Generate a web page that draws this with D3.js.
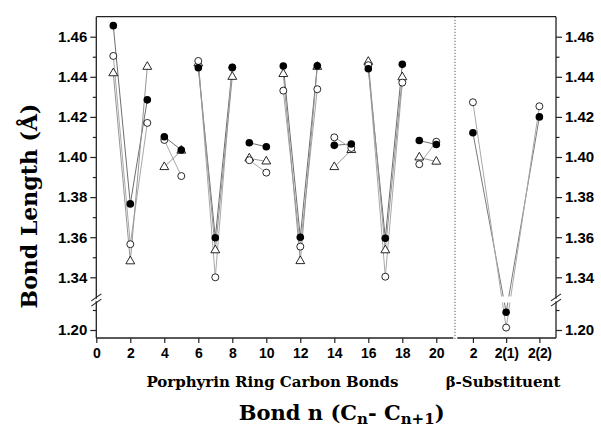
<!DOCTYPE html>
<html>
<head>
<meta charset="utf-8">
<script src="https://cdn.jsdelivr.net/npm/d3@7"></script>
<style>
  body { margin: 0; background: #fff; }
  svg { display: block; font-family: "DejaVu Serif", serif; font-weight: bold; }
  .tick text { fill: #000; }
</style>
</head>
<body>
<svg id="chart" width="601" height="430"></svg>
<script>
"use strict";

// ring carbon bonds 1..20
const bonds = d3.range(1, 21);
const filledRing = [1.4655, 1.3766, 1.4285, 1.4101, 1.4035, 1.4445, 1.3597, 1.4448, 1.4071, 1.4051,
                    1.4454, 1.3600, 1.4455, 1.4058, 1.4065, 1.4440, 1.3595, 1.4462, 1.4082, 1.4062];
const openRing   = [1.4504, 1.3565, 1.4170, 1.4085, 1.3905, 1.4479, 1.3400, 1.4445, 1.3984, 1.3922,
                    1.4331, 1.3553, 1.4338, 1.4098, 1.4045, 1.4458, 1.3403, 1.4371, 1.3964, 1.4076];
const triRing    = [1.4418, 1.3480, 1.4450, 1.3950, 1.4032, 1.4467, 1.3535, 1.4400, 1.3993, 1.3978,
                    1.4414, 1.3481, 1.4450, 1.3950, 1.4035, 1.4475, 1.3535, 1.4398, 1.3998, 1.3977];
// which bonds are joined by a line
const groups = [[1, 3], [4, 5], [6, 8], [9, 10], [11, 13], [14, 15], [16, 18], [19, 20]];

// beta-substituent
const subCats = ["2", "2(1)", "2(2)"];
const filledSub = [1.4121, 1.2089, 1.4200];
const openSub   = [1.4273, 1.2012, 1.4253];

const xTicksRing = d3.range(0, 21, 2);
const yMajor = [1.34, 1.36, 1.38, 1.40, 1.42, 1.44, 1.46];
const yMinor = [1.35, 1.37, 1.39, 1.41, 1.43, 1.45];
const yMajorLow = [1.20];
const yMinorLow = [1.21];

const L = 96.3, R = 556, T = 16.7, B = 338, SEP = 455;
const svg = d3.select("#chart");

const x = d3.scaleLinear().domain([0, 21]).range([L, 453.3]);
const xs = d3.scaleLinear().domain([0.5, 3.5]).range([456.3, R]);
const yTop = d3.scaleLinear().domain([1.34, 1.46]).range([277.3, 36.7]);
const yBot = d3.scaleLinear().domain([1.20, 1.21]).range([330, 310]);
const y = (v) => (v >= 1.3 ? yTop(v) : yBot(v));
const BREAK_Y = 300;

// clip out the break band
svg.append("clipPath").attr("id", "brk")
  .selectAll("rect")
  .data([[T, BREAK_Y - 3.5], [BREAK_Y + 2.5, B]])
  .join("rect")
  .attr("x", L).attr("width", R - L)
  .attr("y", (d) => d[0]).attr("height", (d) => d[1] - d[0]);

// separator
svg.append("line")
  .attr("x1", SEP).attr("x2", SEP).attr("y1", T).attr("y2", B + 1)
  .attr("stroke", "#777").attr("stroke-width", 1.2).attr("stroke-dasharray", "1.3,1.7");

// frame
const frame = svg.append("g").attr("stroke", "#222").attr("stroke-width", 1.3).attr("fill", "none");
frame.append("line").attr("x1", L).attr("x2", R).attr("y1", T).attr("y2", T);
frame.append("line").attr("x1", L).attr("x2", L).attr("y1", T).attr("y2", B);
frame.append("line").attr("x1", R).attr("x2", R).attr("y1", T).attr("y2", B);
frame.append("line").attr("x1", L).attr("x2", 453.3).attr("y1", B).attr("y2", B);
frame.append("line").attr("x1", 457.3).attr("x2", R).attr("y1", B).attr("y2", B);

// break marks
[L, R].forEach((ax) => {
  [-2.6, 2.6].forEach((dy) => {
    svg.append("line")
      .attr("x1", ax - 5).attr("x2", ax + 5)
      .attr("y1", BREAK_Y + dy + 3.5).attr("y2", BREAK_Y + dy - 3.5)
      .attr("stroke", "#222").attr("stroke-width", 1.1);
  });
  svg.append("line")
    .attr("x1", ax).attr("x2", ax).attr("y1", BREAK_Y - 1.2).attr("y2", BREAK_Y + 1.2)
    .attr("stroke", "#fff").attr("stroke-width", 2);
});

function styleAxis(g, size) {
  g.select(".domain").remove();
  g.selectAll(".tick line").attr("stroke", "#222").attr("stroke-width", 1.2);
  g.selectAll(".tick text").style("font-size", size + "px");
}

// y axes, both sides
[[d3.axisLeft, L], [d3.axisRight, R]].forEach(([mk, pos]) => {
  const a1 = svg.append("g").attr("transform", `translate(${pos},0)`)
    .call(mk(yTop).tickValues(yMajor).tickSize(6).tickPadding(3).tickFormat(d3.format(".2f")));
  styleAxis(a1, 15);
  const a2 = svg.append("g").attr("transform", `translate(${pos},0)`)
    .call(mk(yBot).tickValues(yMajorLow).tickSize(6).tickPadding(3).tickFormat(d3.format(".2f")));
  styleAxis(a2, 15);
  const m1 = svg.append("g").attr("transform", `translate(${pos},0)`)
    .call(mk(yTop).tickValues(yMinor).tickSize(3.5).tickFormat(""));
  styleAxis(m1, 15);
  const m2 = svg.append("g").attr("transform", `translate(${pos},0)`)
    .call(mk(yBot).tickValues(yMinorLow).tickSize(3.5).tickFormat(""));
  styleAxis(m2, 15);
});

// x axes
const xa = svg.append("g").attr("transform", `translate(0,${B})`)
  .call(d3.axisBottom(x).tickValues(xTicksRing).tickSize(5).tickPadding(5));
styleAxis(xa, 14);
const xb = svg.append("g").attr("transform", `translate(0,${B})`)
  .call(d3.axisBottom(xs).tickValues([1, 2, 3]).tickSize(5).tickPadding(5)
    .tickFormat((d) => subCats[d - 1]));
styleAxis(xb, 14);
xb.selectAll(".tick text").attr("letter-spacing", "-0.3");

// data lines
const lineG = svg.append("g").attr("clip-path", "url(#brk)").attr("fill", "none");
const line = d3.line().x((d) => d[0]).y((d) => d[1]);
const ringSeries = [
  { vals: filledRing, color: "#6e6e6e" },
  { vals: openRing, color: "#a8a8a8" },
  { vals: triRing, color: "#959595" },
];
ringSeries.forEach((s) => {
  groups.forEach(([a, b]) => {
    const pts = d3.range(a, b + 1).map((n) => [x(n), y(s.vals[n - 1])]);
    lineG.append("path").attr("d", line(pts)).attr("stroke", s.color).attr("stroke-width", 1);
  });
});
[{ vals: filledSub, color: "#7a7a7a" }, { vals: openSub, color: "#a8a8a8" }].forEach((s) => {
  const pts = s.vals.map((v, i) => [xs(i + 1), y(v)]);
  lineG.append("path").attr("d", line(pts)).attr("stroke", s.color).attr("stroke-width", 1);
});

// markers
const tri = d3.symbol().type(d3.symbolTriangle).size(34);
const mk = svg.append("g");
mk.selectAll("path.tri").data(bonds).join("path")
  .attr("class", "tri").attr("d", tri)
  .attr("transform", (n) => `translate(${x(n)},${y(triRing[n - 1])})`)
  .attr("fill", "#fff").attr("stroke", "#111").attr("stroke-width", 0.9);
mk.selectAll("circle.open").data(bonds).join("circle")
  .attr("class", "open").attr("r", 3.5)
  .attr("cx", (n) => x(n)).attr("cy", (n) => y(openRing[n - 1]))
  .attr("fill", "#fff").attr("stroke", "#111").attr("stroke-width", 0.9);
mk.selectAll("circle.filled").data(bonds).join("circle")
  .attr("class", "filled").attr("r", 3.8)
  .attr("cx", (n) => x(n)).attr("cy", (n) => y(filledRing[n - 1]))
  .attr("fill", "#000");
mk.selectAll("circle.osub").data(openSub).join("circle")
  .attr("class", "osub").attr("r", 3.5)
  .attr("cx", (d, i) => xs(i + 1)).attr("cy", (d) => y(d))
  .attr("fill", "#fff").attr("stroke", "#111").attr("stroke-width", 0.9);
mk.selectAll("circle.fsub").data(filledSub).join("circle")
  .attr("class", "fsub").attr("r", 3.8)
  .attr("cx", (d, i) => xs(i + 1)).attr("cy", (d) => y(d))
  .attr("fill", "#000");

// labels
svg.append("text").attr("x", 272.5).attr("y", 387).attr("text-anchor", "middle")
  .style("font-size", "15px").text("Porphyrin Ring Carbon Bonds");
svg.append("text").attr("x", 503).attr("y", 387).attr("text-anchor", "middle")
  .style("font-size", "15px").text("β-Substituent");

const xt = svg.append("text").attr("x", 341.7).attr("y", 420).attr("text-anchor", "middle")
  .style("font-size", "21px");
xt.append("tspan").text("Bond n (C");
xt.append("tspan").attr("dy", 3.5).style("font-size", "15px").text("n");
xt.append("tspan").attr("dy", -3.5).text("- C");
xt.append("tspan").attr("dy", 3.5).style("font-size", "15px").text("n+1");
xt.append("tspan").attr("dy", -3.5).text(")");

svg.append("text")
  .attr("transform", "translate(37,206) rotate(-90)")
  .attr("text-anchor", "middle")
  .style("font-size", "22px")
  .text("Bond Length (Å)");
</script>
</body>
</html>
